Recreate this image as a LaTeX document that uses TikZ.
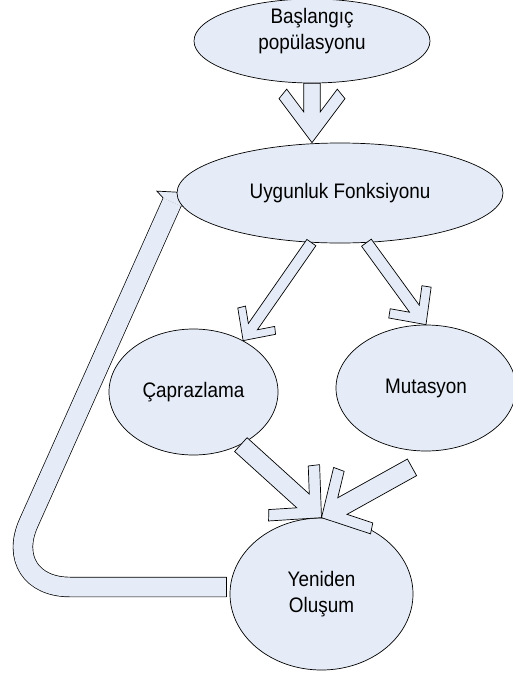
\documentclass[tikz,border=0pt]{standalone}
\usepackage{fontspec}
\setmainfont{Liberation Sans}[FakeStretch=0.9]
\usetikzlibrary{positioning,calc,shapes.geometric,backgrounds}
\definecolor{blobfill}{RGB}{229,236,247}
\tikzset{
  blob/.style={ellipse, draw, fill=blobfill, inner sep=0pt, line width=0.7pt, align=center},
  blockarrow/.style={draw, fill=blobfill, line width=0.7pt, line join=miter},
  loopline/.style={line width=0.7pt, double=blobfill, double distance=19pt, rounded corners=70pt}
}
% wide arrow with swept barbs: tail, tip, half width, barb point (along,across), barb back (along,across)
\newcommand{\chevarrow}[7]{%
  \pgfmathsetmacro\jpos{#6-(#7-#3)*#4/#5}
  \draw[blockarrow]
    ($(#1)!#3pt!-90:(#2)$) --
    ($(#2)!\jpos pt!(#1)!#3pt!90:(#1)$) --
    ($(#2)!#6pt!(#1)!#7pt!90:(#1)$) --
    ($(#2)!#4pt!(#1)!#5pt!90:(#1)$) --
    (#2) --
    ($(#2)!#4pt!(#1)!#5pt!-90:(#1)$) --
    ($(#2)!#6pt!(#1)!#7pt!-90:(#1)$) --
    ($(#2)!\jpos pt!(#1)!#3pt!-90:(#1)$) --
    ($(#1)!#3pt!90:(#2)$) -- cycle;}

\begin{document}
\begin{tikzpicture}[x=1pt,y=-1pt,font=\fontsize{21}{26}\selectfont]
\clip (0,0) rectangle (513,673);

\node[blob, minimum width=236pt, minimum height=84pt,
  label={[yshift=10pt,align=center]center:Başlangıç\\popülasyonu}] (start) at (312,41) {};
\node[blob, minimum width=326pt, minimum height=100pt] (fitness) at (340,193) {Uygunluk Fonksiyonu};
\node[blob, minimum width=169pt, minimum height=126pt] (cross) at (193.5,392) {Çaprazlama};
\node[blob, minimum width=180pt, minimum height=126pt] (mutation) at (426,388) {Mutasyon};
\node[blob, minimum width=183pt, minimum height=152pt] (renew) at (321.5,594) {Yeniden\\Oluşum};

% block arrows
\coordinate (t1) at (start.south |- fitness.north);
\coordinate (m5) at ($(mutation.south)+(-14,16)$);
\chevarrow{start.south}{t1}{8.3}{44}{33}{53.5}{25.3}
\chevarrow{fitness.240}{cross.46}{5.5}{23.7}{23}{29.7}{17.8}
\chevarrow{fitness.298}{mutation.north}{6}{27.3}{26.2}{33.9}{19.6}
\chevarrow{cross.312}{renew.north}{9.3}{37}{38}{44.5}{29.4}
\chevarrow{m5}{renew.north}{9.5}{35}{38}{42.3}{29.5}

% loop back to the fitness step
\begin{scope}[on background layer]
\coordinate (l0) at ($(renew.west)+(-3,-7)$);
\coordinate (lc) at (0,587);
\coordinate (lb) at ($(fitness.west)+(-4.5,9)$);
\draw[loopline] (l0) -- (lc) -- (lb);
\draw[line width=0.7pt] ($(l0)+(0,-9.85)$) -- ($(l0)+(0,9.85)$);
\filldraw[blockarrow] ($(lb)!9.85pt!-90:(lc)$) -- ($(lb)!-3.7pt!(lc)!18.4pt!-90:(lc)$)
  -- ($(lb)!-10.8pt!(lc)$) -- ($(lb)!-3.7pt!(lc)!18.4pt!90:(lc)$) -- ($(lb)!9.85pt!90:(lc)$);
\end{scope}
\end{tikzpicture}
\end{document}
